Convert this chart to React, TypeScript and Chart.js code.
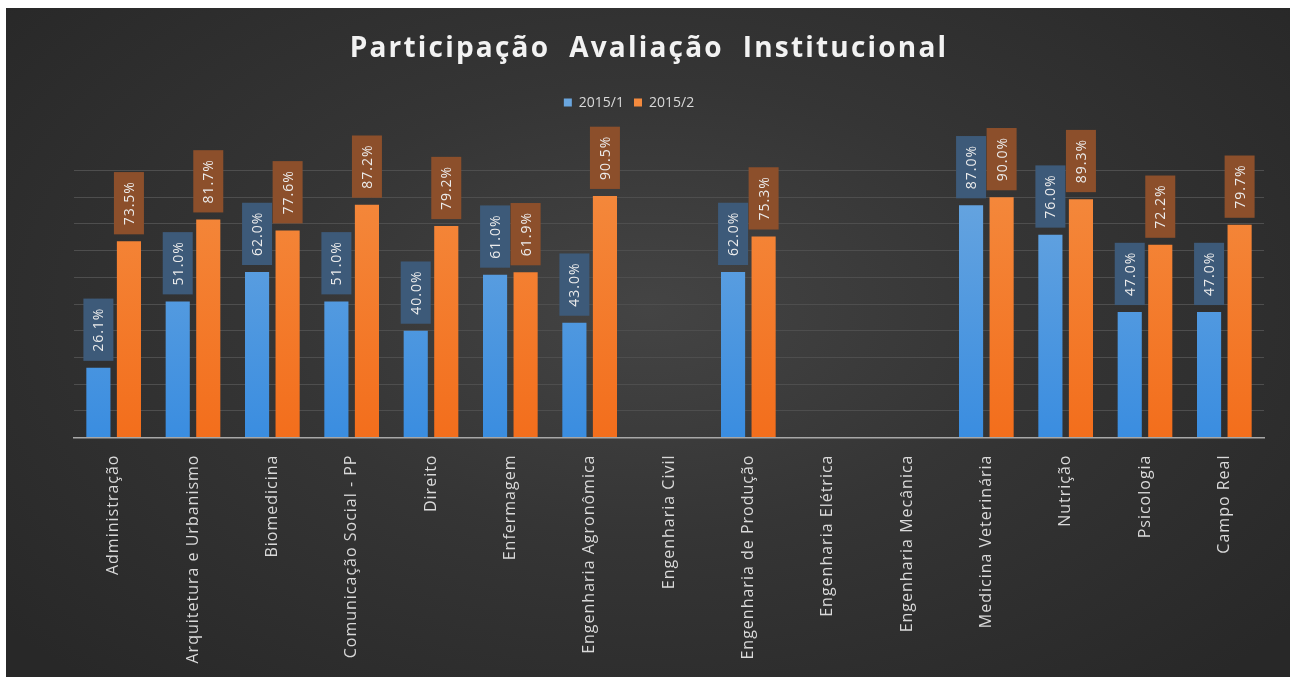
import React, { useEffect, useRef } from "react";
import { Chart, registerables } from "chart.js";

Chart.register(...registerables);

const categories = [
  "Administração",
  "Arquitetura e Urbanismo",
  "Biomedicina",
  "Comunicação Social - PP",
  "Direito",
  "Enfermagem",
  "Engenharia Agronômica",
  "Engenharia Civil",
  "Engenharia de Produção",
  "Engenharia Elétrica",
  "Engenharia Mecânica",
  "Medicina Veterinária",
  "Nutrição",
  "Psicologia",
  "Campo Real",
];

const series1Label = "2015/1";
const series2Label = "2015/2";
const series1 = [26.1, 51.0, 62.0, 51.0, 40.0, 61.0, 43.0, null, 62.0, null, null, 87.0, 76.0, 47.0, 47.0];
const series2 = [73.5, 81.7, 77.6, 87.2, 79.2, 61.9, 90.5, null, 75.3, null, null, 90.0, 89.3, 72.2, 79.7];

const titleText = "Participação  Avaliação  Institucional";

const spacingPlugin = {
  id: "spacing",
  beforeInit(chart: any) {
    const tb = chart.titleBlock;
    if (tb) {
      const d = tb.draw.bind(tb);
      tb.draw = function (...args: any[]) {
        const c = chart.ctx;
        c.save();
        c.letterSpacing = "2.2px";
        c.translate(-20, 0);
        d(...args);
        c.restore();
      };
    }
    const lg = chart.legend;
    if (lg) {
      const fit = lg.fit.bind(lg);
      lg.fit = function () {
        fit();
        this.height += 51;
      };
      const ld = lg.draw.bind(lg);
      lg.draw = function (...args: any[]) {
        const c = chart.ctx;
        c.save();
        c.letterSpacing = "0px";
        c.translate(-40, 0);
        ld(...args);
        c.restore();
      };
    }
  },
  beforeDraw(chart: any) {
    chart.ctx.letterSpacing = "1px";
  },
  afterDraw(chart: any) {
    chart.ctx.letterSpacing = "0px";
  },
};

const valueLabelPlugin = {
  id: "valueLabels",
  afterDatasetsDraw(chart: any) {
    const ctx = chart.ctx;
    const boxColors = ["#3d5a79", "#8c4f2b"];
    ctx.save();
    ctx.letterSpacing = "1px";
    ctx.font = "14px 'Open Sans'";
    chart.data.datasets.forEach((ds: any, di: number) => {
      const meta = chart.getDatasetMeta(di);
      meta.data.forEach((el: any, i: number) => {
        const v = ds.data[i];
        if (v === null || v === undefined) return;
        const text = v.toFixed(1) + "%";
        const tw = ctx.measureText(text).width;
        const boxW = 30;
        const boxH = tw + 18;
        const bottom = el.y - 7;
        ctx.fillStyle = boxColors[di];
        ctx.fillRect(el.x - boxW / 2, bottom - boxH, boxW, boxH);
        ctx.save();
        ctx.translate(el.x, bottom - boxH / 2);
        ctx.rotate(-Math.PI / 2);
        ctx.fillStyle = "#ececec";
        ctx.textAlign = "center";
        ctx.textBaseline = "middle";
        ctx.fillText(text, 0, 1);
        ctx.restore();
      });
    });
    ctx.restore();
  },
};

function barGradient(top: string, bottom: string) {
  return (c: any) => {
    const chart = c.chart;
    const area = chart.chartArea;
    if (!area) return bottom;
    const g = chart.ctx.createLinearGradient(0, area.top, 0, area.bottom);
    g.addColorStop(0, top);
    g.addColorStop(1, bottom);
    return g;
  };
}

export default function App() {
  const canvasRef = useRef<HTMLCanvasElement | null>(null);

  useEffect(() => {
    if (!canvasRef.current) return;
    const chart = new Chart(canvasRef.current, {
      type: "bar",
      data: {
        labels: categories,
        datasets: [
          {
            label: series1Label,
            data: series1 as any,
            backgroundColor: barGradient("#6aa6df", "#3a8de0") as any,
            borderWidth: 0,
            categoryPercentage: 0.77,
            barPercentage: 0.79,
          },
          {
            label: series2Label,
            data: series2 as any,
            backgroundColor: barGradient("#f48a3e", "#f36e1c") as any,
            borderWidth: 0,
            categoryPercentage: 0.77,
            barPercentage: 0.79,
          },
        ],
      },
      options: {
        animation: false,
        responsive: true,
        maintainAspectRatio: false,
        layout: { padding: { left: 68, right: 26, top: 0, bottom: 9.5 } },
        plugins: {
          title: {
            display: true,
            text: titleText,
            color: "#f2f2f2",
            font: { family: "'Open Sans'", size: 28, weight: "bold" },
            padding: { top: 24, bottom: 20 },
          },
          legend: {
            display: true,
            position: "top",
            labels: {
              color: "#d9d9d9",
              font: { family: "'Open Sans'", size: 14 },
              boxWidth: 8,
              boxHeight: 8,
              padding: 10,
            },
          },
          tooltip: { enabled: false },
        },
        scales: {
          x: {
            grid: { display: false, drawTicks: false },
            border: { display: true, color: "#a8a8a8", width: 1.5 },
            ticks: {
              color: "#d9d9d9",
              font: { family: "'Open Sans'", size: 16 },
              minRotation: 90,
              maxRotation: 90,
              padding: 17,
              autoSkip: false,
            },
            afterFit: (s: any) => {
              s.height = 230;
            },
          },
          y: {
            min: 0,
            max: 100,
            ticks: { display: false, stepSize: 10 },
            grid: { color: "#4e4e4e", lineWidth: 1, drawTicks: false },
            border: { display: false },
          },
        },
      },
      plugins: [spacingPlugin, valueLabelPlugin],
    });
    return () => chart.destroy();
  }, []);

  return (
    <div
      style={{
        position: "fixed",
        left: 6,
        top: 8,
        width: 1284,
        height: 669,
        background: "radial-gradient(ellipse 65% 75% at 50% 45%, #444444 0%, #353535 45%, #282828 100%)",
      }}
    >
      <canvas ref={canvasRef} />
    </div>
  );
}
